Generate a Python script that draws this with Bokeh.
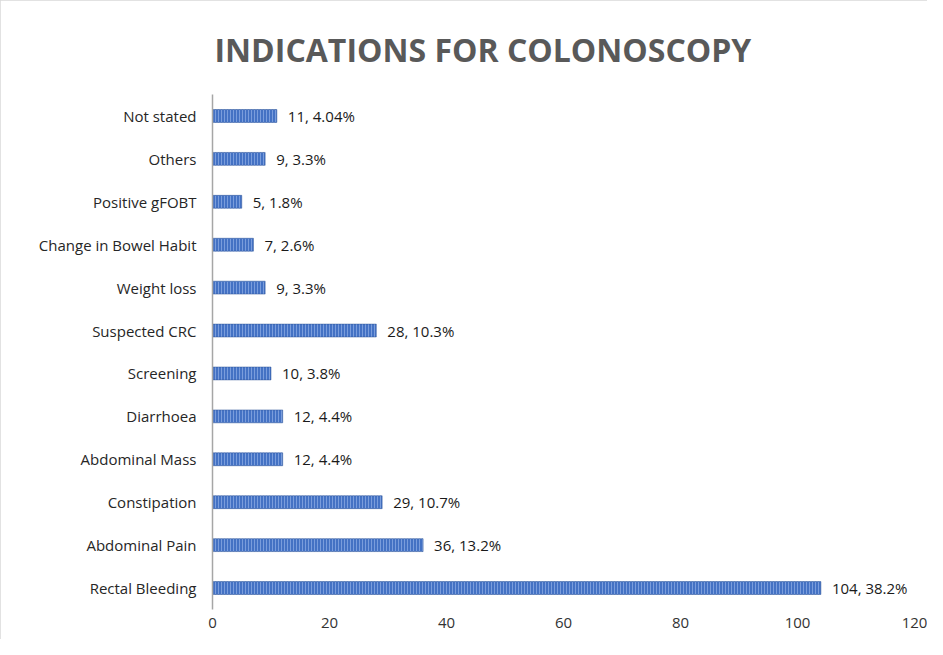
from bokeh.plotting import figure
from bokeh.models import ColumnDataSource, Range1d, FactorRange, FixedTicker, Title
from bokeh.core.properties import value
from bokeh.embed import file_html
from bokeh.resources import INLINE

categories = ["Rectal Bleeding", "Abdominal Pain", "Constipation", "Abdominal Mass",
              "Diarrhoea", "Screening", "Suspected CRC", "Weight loss",
              "Change in Bowel Habit", "Positive gFOBT", "Others", "Not stated"]
counts = [104, 36, 29, 12, 12, 10, 28, 9, 7, 5, 9, 11]
percents = ["38.2", "13.2", "10.7", "4.4", "4.4", "3.8", "10.3", "3.3", "2.6", "1.8", "3.3", "4.04"]
x_ticks = [0, 20, 40, 60, 80, 100, 120]
title_text = "INDICATIONS FOR COLONOSCOPY"

labels = [f"{c}, {p}%" for c, p in zip(counts, percents)]
src = ColumnDataSource(dict(cat=categories, n=counts, lab=labels))

FONT = "Open Sans"

p = figure(width=927, height=639, output_backend="svg", toolbar_location=None,
           y_range=FactorRange(*categories, range_padding=0),
           x_range=Range1d(0, 120),
           min_border_left=212, min_border_right=13, min_border_top=94, min_border_bottom=30)
p.outline_line_color = None
p.grid.grid_line_color = None
p.background_fill_color = "white"
p.border_fill_color = "white"
p.styles = {"outline": "1px solid #d9d9d9", "outline-offset": "-1px"}

p.title = Title(text=title_text, align="left", offset=2, standoff=48,
                text_font=FONT, text_font_style="bold", text_font_size="32px",
                text_color="#595959")

p.hbar(y="cat", right="n", left=0, height=0.3, source=src,
       fill_color="#4472C4", line_color="#2F5597", line_width=0.5,
       hatch_pattern="|", hatch_color="#7A9DDC", hatch_scale=3, hatch_weight=1)

p.text(x="n", y="cat", text="lab", source=src, x_offset=11,
       text_font=value(FONT), text_font_size="15px", text_color="#1a1a1a",
       text_baseline="middle", text_align="left")

xa = p.xaxis[0]
xa.ticker = FixedTicker(ticks=x_ticks)
xa.axis_line_color = None
xa.major_tick_line_color = None
xa.minor_tick_line_color = None
xa.major_tick_out = 0
xa.major_tick_in = 0
xa.major_label_standoff = 8
xa.major_label_text_font = FONT
xa.major_label_text_font_size = "15px"
xa.major_label_text_color = "#333333"

ya = p.yaxis[0]
ya.axis_line_color = "#A6A6A6"
ya.axis_line_width = 1.5
ya.major_tick_line_color = None
ya.minor_tick_line_color = None
ya.major_tick_out = 0
ya.major_tick_in = 0
ya.major_label_standoff = 16
ya.major_label_text_font = FONT
ya.major_label_text_font_size = "15px"
ya.major_label_text_color = "#262626"

open("out.html", "w").write(file_html(p, INLINE))
